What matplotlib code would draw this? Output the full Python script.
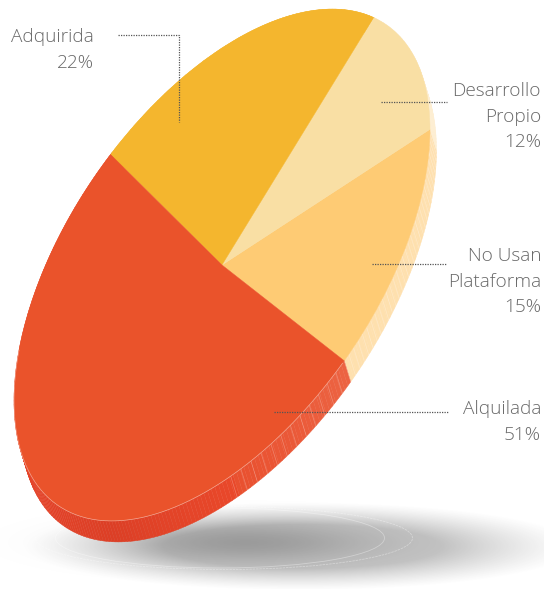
#!/usr/bin/env python3
# -*- coding: utf-8 -*-
import numpy as np
import matplotlib
matplotlib.use("Agg")
import matplotlib.pyplot as plt
from matplotlib.collections import PolyCollection
from matplotlib.colors import to_rgb
from matplotlib.patches import Ellipse
from matplotlib.transforms import Affine2D

# data, counter-clockwise from the Alquilada / No Usan edge
labels = ["No Usan\nPlataforma", "Desarrollo\nPropio", "Adquirida", "Alquilada"]
values = [15, 12, 22, 51]
colors = ["#fecb74", "#f9dfa4", "#f4b62e", "#ea532b"]
side_colors = ["#fee0ae", "#fdeed2", "#f4b62e", "#e8452a"]

plt.rcParams["font.family"] = ["Open Sans", "DejaVu Sans"]

W, H = 544, 589
fig = plt.figure(figsize=(W / 100, H / 100), dpi=100)
ax = fig.add_axes([0, 0, 1, 1])

# unit circle -> tilted ellipse in pixel coordinates
CX, CY = 222, 265
M = np.array([[208.0, 0.0], [-135.7, -217.0]])
OFFSET = np.array([6.5, 21.0])
START = -54.0


def to_px(theta):
    t = np.radians(theta)
    p = np.column_stack([np.cos(t), np.sin(t)]) @ M.T
    return p + [CX, CY]


# ---- ground shadow
yy, xx = np.mgrid[495:589, 0:W]
r = np.hypot((xx - 302) / 278, (yy - 546) / 44)
outer = np.clip((1.0 - r) / 0.5, 0, 1) ** 1.2 * 0.3
inner = np.exp(-(((xx - 245) / 130) ** 2 + ((yy - 542) / 21) ** 2)) * 0.22
rgba = np.zeros(xx.shape + (4,))
rgba[..., :3] = 0.25
rgba[..., 3] = outer + inner
ax.imshow(rgba, extent=(0, W, 589, 495), aspect="auto", zorder=1, interpolation="bilinear")
ax.add_patch(Ellipse((220, 538), 329, 60, fill=False, ec="white", lw=0.6, alpha=0.35, zorder=2))
ax.add_patch(Ellipse((224, 538), 377, 63, fill=False, ec="white", lw=0.6, alpha=0.35, ls=(0, (3, 1)), zorder=2))

# ---- pie rim, one quad per small arc step
edges = START + np.cumsum([0] + values) * 3.6
red_stops = [edges[3], 190, 237, 272, 273, edges[4]]
red_cols = ["#e8452a", "#e8452a", "#dc3f26", "#e9482a", "#e9502f", "#ec6443"]
red_rgb = np.array([to_rgb(c) for c in red_cols])
arc = np.arange(edges[0], edges[-1] + 1, 1.0)
quads, quad_cols = [], []
for a, b in zip(arc[:-1], arc[1:]):
    p = to_px(np.array([a, b]))
    quads.append([p[0], p[1], p[1] + OFFSET, p[0] + OFFSET])
    i = np.searchsorted(edges, a + 0.5) - 1
    if i == 3:
        col = [np.interp(a, red_stops, red_rgb[:, k]) for k in range(3)]
    else:
        col = to_rgb(side_colors[i])
    quad_cols.append(col)
ax.add_collection(PolyCollection(quads, facecolors=quad_cols, edgecolors=quad_cols, lw=0.3, zorder=3))

# rim facets on the lit part of the red slice and on the No Usan slice
facets = np.concatenate([np.arange(edges[-1] - 2.8, 272, -2.8), np.arange(edges[0], edges[1], 1.6)])
for a in facets:
    p = to_px(np.array([a]))[0]
    ax.plot([p[0], p[0] + OFFSET[0]], [p[1], p[1] + OFFSET[1]], color="white", lw=0.5, alpha=0.28, zorder=4)

# ---- top of the pie
wedges, _ = ax.pie(values, colors=colors, startangle=START, counterclock=True)
affine = Affine2D.from_values(M[0, 0], M[1, 0], M[0, 1], M[1, 1], CX, CY)
for w in wedges:
    w.set_transform(affine + ax.transData)
    w.set_zorder(5)
    w.set_edgecolor(w.get_facecolor())
    w.set_linewidth(0.3)

# thin highlight around the top edge on the red part
hl = to_px(np.arange(edges[3] + 45, edges[4], 1.0))
ax.plot(hl[:, 0], hl[:, 1], color="white", lw=0.5, alpha=0.45, zorder=6)

# ---- leaders and labels
leaders = [
    ([372, 447], [264, 264]),
    ([381, 447], [102, 102]),
    ([118, 179, 179], [35, 35, 122]),
    ([274, 449], [412, 412]),
]
label_pos = [(541, 256), (541, 91), (94, 37), (541, 409)]
for name, v, (lx, ly), (tx, ty) in zip(labels, values, leaders, label_pos):
    ax.plot(lx, ly, color="#555555", lw=0.9, ls=(0, (1, 1)), zorder=7)
    for k, line in enumerate(name.split("\n") + [f"{v}%"]):
        ax.text(tx, ty + k * 25.7, line, ha="right", va="center", fontsize=13.7,
                color="#696969", weight="light", zorder=8)

ax.set_xlim(0, W)
ax.set_ylim(H, 0)
ax.set_aspect("auto")
ax.axis("off")
fig.savefig("out.png", dpi=100)
